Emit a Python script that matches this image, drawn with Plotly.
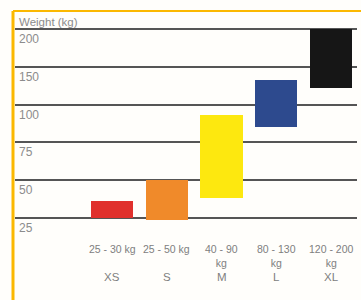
import numpy as np
import plotly.graph_objects as go

# Data
sizes = ["XS", "S", "M", "L", "XL"]
range_labels = ["25 - 30 kg", "25 - 50 kg", "40 - 90<br>kg", "80 - 130<br>kg", "120 - 200<br>kg"]
low_kg = [25, 24, 38, 85, 122]
high_kg = [36, 50, 93, 132, 200]
bar_colors = ["#e0302c", "#f08a2a", "#fde80f", "#2d4a8e", "#161616"]
y_ticks = [25, 50, 75, 100, 150, 200]
y_title = "Weight (kg)"

# the axis spaces tick values evenly
tick_idx = np.arange(len(y_ticks))
lo = [float(np.interp(v, y_ticks, tick_idx)) if v >= y_ticks[0] else (v - y_ticks[0]) / 25.0 for v in low_kg]
hi = [float(np.interp(v, y_ticks, tick_idx)) for v in high_kg]

W, H = 361, 300
L, R, T, B = 15, 4, 11, 70
ph = H - T - B

fig = go.Figure()
fig.add_trace(go.Bar(
    x=list(range(len(sizes))),
    y=[h - l for h, l in zip(hi, lo)],
    base=lo,
    width=0.77,
    marker=dict(color=bar_colors, line=dict(width=0)),
    hoverinfo="skip",
))

font_fam = "Liberation Sans, Arial, sans-serif"
grey = "#808080"

annotations = []
for i, t in enumerate(y_ticks):
    annotations.append(dict(x=0.006, xref="paper", y=i, yref="y", text=str(t),
                            showarrow=False, xanchor="left", yanchor="top", yshift=-1,
                            font=dict(family=font_fam, size=12, color="#8c8c8c")))
annotations.append(dict(x=0.006, xref="paper", y=len(y_ticks) - 1, yref="y", text=y_title,
                        showarrow=False, xanchor="left", yanchor="bottom", yshift=-1,
                        font=dict(family=font_fam, size=11.5, color="#8c8c8c")))
for i, (rl, s) in enumerate(zip(range_labels, sizes)):
    annotations.append(dict(x=i, xref="x", y=(H - B - 241) / ph, yref="paper", text=rl,
                            showarrow=False, xanchor="center", yanchor="top",
                            font=dict(family=font_fam, size=10.5, color=grey)))
    annotations.append(dict(x=i, xref="x", y=(H - B - 277) / ph, yref="paper", text=s,
                            showarrow=False, xanchor="center", yanchor="middle",
                            font=dict(family=font_fam, size=11.5, color=grey)))

shapes = [
    dict(type="line", xref="paper", yref="paper", x0=-2 / (W - L - R), x1=(W - L) / (W - L - R),
         y0=1, y1=1, line=dict(color="#fbb800", width=2)),
    dict(type="line", xref="paper", yref="paper", x0=-2 / (W - L - R), x1=-2 / (W - L - R),
         y0=1, y1=(H - B - 300) / ph, line=dict(color="#fbb800", width=3)),
]

px_per = 37.8
top_val = 5 + (29 - T) / px_per
bot_val = 0 - ((H - B) - 218) / px_per
fig.update_layout(
    width=W, height=H,
    margin=dict(l=L, r=R, t=T, b=B),
    paper_bgcolor="#fffefb", plot_bgcolor="#fffefb",
    showlegend=False,
    bargap=0,
    xaxis=dict(range=[-1.772, 4.475], showticklabels=False, showgrid=False,
               zeroline=False, fixedrange=True),
    yaxis=dict(range=[bot_val, top_val],
               tickvals=list(tick_idx), showticklabels=False, showgrid=True,
               gridcolor="#555555", gridwidth=2, zeroline=False, fixedrange=True),
    annotations=annotations,
    shapes=shapes,
)

fig.write_html("out.html", config={"displayModeBar": False},
               post_script="document.body.style.margin='0';document.body.style.background='#ffffff';")
